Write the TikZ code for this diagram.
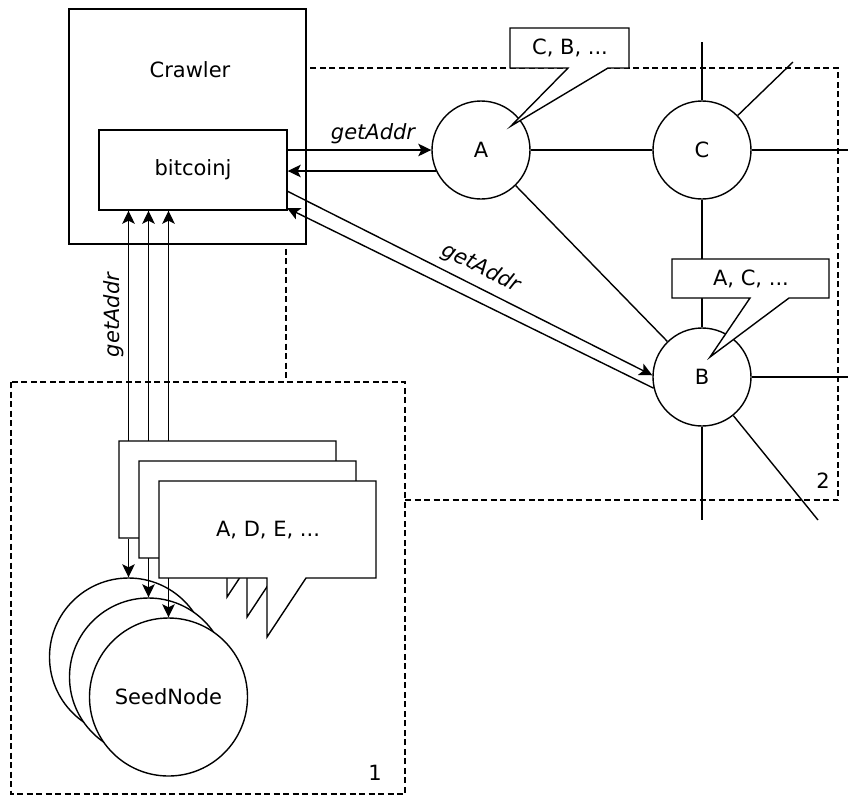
\documentclass[tikz,border=0pt]{standalone}
\usepackage{fontspec}
\setmainfont{DejaVu Sans}
\usetikzlibrary{arrows.meta}
\begin{document}
\begin{tikzpicture}[x=1pt,y=-1pt,line width=1.4pt,
  every node/.style={font=\fontsize{21}{25}\selectfont},
  box/.style={draw,fill=white,inner sep=0pt},
  peer/.style={draw,fill=white,circle,minimum size=98pt,inner sep=0pt},
  seed/.style={draw,fill=white,circle,minimum size=158pt,inner sep=0pt},
  zone/.style={draw,dash pattern=on 6pt off 3.5pt,line width=1.2pt},
  arr/.style={-{Stealth[length=13pt,width=12.5pt,inset=3pt]}},
  msg/.style={font=\fontsize{21}{25}\selectfont\itshape},
  bubble/.style={draw,fill=white,line join=miter}
]
\useasboundingbox (0,0) rectangle (848,796);

% zone 2: the crawled network
\draw[zone] (286,68) rectangle (838,500);
\node (zlabel2) at (823,481) {2};

% crawler with its bitcoinj library
\node[box,minimum width=237pt,minimum height=235pt] (crawler) at (187.5,126.5) {};
\node (crawlerlbl) at (190,70) {Crawler};
\node[box,minimum width=188pt,minimum height=80pt] (bitcoinj) at (193,170) {bitcoinj};

% zone 1: the seed nodes
\draw[zone,fill=white] (11,382) rectangle (405,794);
\node (zlabel1) at (375,773) {1};

% peers
\node[peer] (A) at (481,150) {A};
\node[peer] (C) at (702,150) {C};
\node[peer] (B) at (702,377) {B};

\coordinate (cN)  at (702,42);
\coordinate (cNE) at (793,62);
\coordinate (cE)  at (848,150);
\coordinate (bE)  at (848,377);
\coordinate (bS)  at (702,520);
\coordinate (bSE) at (818,520);

\draw (A) -- (C);
\draw (A) -- (B);
\draw (C) -- (B);
\draw (C) -- (cN);
\draw (C) -- (cNE);
\draw (C) -- (cE);
\draw (B) -- (bE);
\draw (B) -- (bS);
\draw (B) -- (bSE);

% address lists held by the peers
\draw[bubble] (510,28) -- (629,28) -- (629,68) -- (608,68) -- (511,126) -- (568,68) -- (510,68) -- cycle;
\node (listA) at (570,48) {C, B, ...};
\draw[bubble] (672,259) -- (829,259) -- (829,298) -- (789,298) -- (710,357) -- (750,298) -- (672,298) -- cycle;
\node (listB) at (751,279) {A, C, ...};

% getAddr exchange with A and B
\draw[arr] (bitcoinj.east |- A.west) -- (A.west);
\draw[arr] (A.205) -- (A.205 -| bitcoinj.east);
\coordinate (bjout) at (287,191);
\coordinate (bjin)  at (287,208);
\draw[arr] (bjout) -- (B.178);
\draw[arr] (B.193) -- (bjin);
\node[msg] (g1) at (373,134) {getAddr};
\node[msg,rotate=-27] (g3) at (481,268) {getAddr};

% seed node requests
\coordinate (up1) at (128.5,441);
\coordinate (up2) at (148.5,461);
\coordinate (up3) at (168.5,481);
\draw[arr] (up1) -- (up1 |- bitcoinj.south);
\draw[arr] (up2) -- (up2 |- bitcoinj.south);
\draw[arr] (up3) -- (up3 |- bitcoinj.south);
\node[msg,rotate=90] (g2) at (114,315) {getAddr};

% seed replies, stacked
\foreach \d in {-40,-20,0} {
  \draw[bubble,shift={(\d,\d)}] (159,481) -- (376,481) -- (376,578) -- (306,578)
    -- (267,637) -- (267,578) -- (159,578) -- cycle;
}
\node (seedlist) at (268,530) {A, D, E, ...};

% seed nodes
\node[seed] (s1) at (128.5,657) {};
\node[seed] (s2) at (148.5,677) {};
\node[seed] (s3) at (168.5,697) {SeedNode};

\coordinate (dn1) at (128.5,539);
\coordinate (dn2) at (148.5,558);
\coordinate (dn3) at (168.5,578);
\draw[arr] (dn1) -- (s1.north);
\draw[arr] (dn2) -- (s2.north);
\draw[arr] (dn3) -- (s3.north);
\end{tikzpicture}
\end{document}
